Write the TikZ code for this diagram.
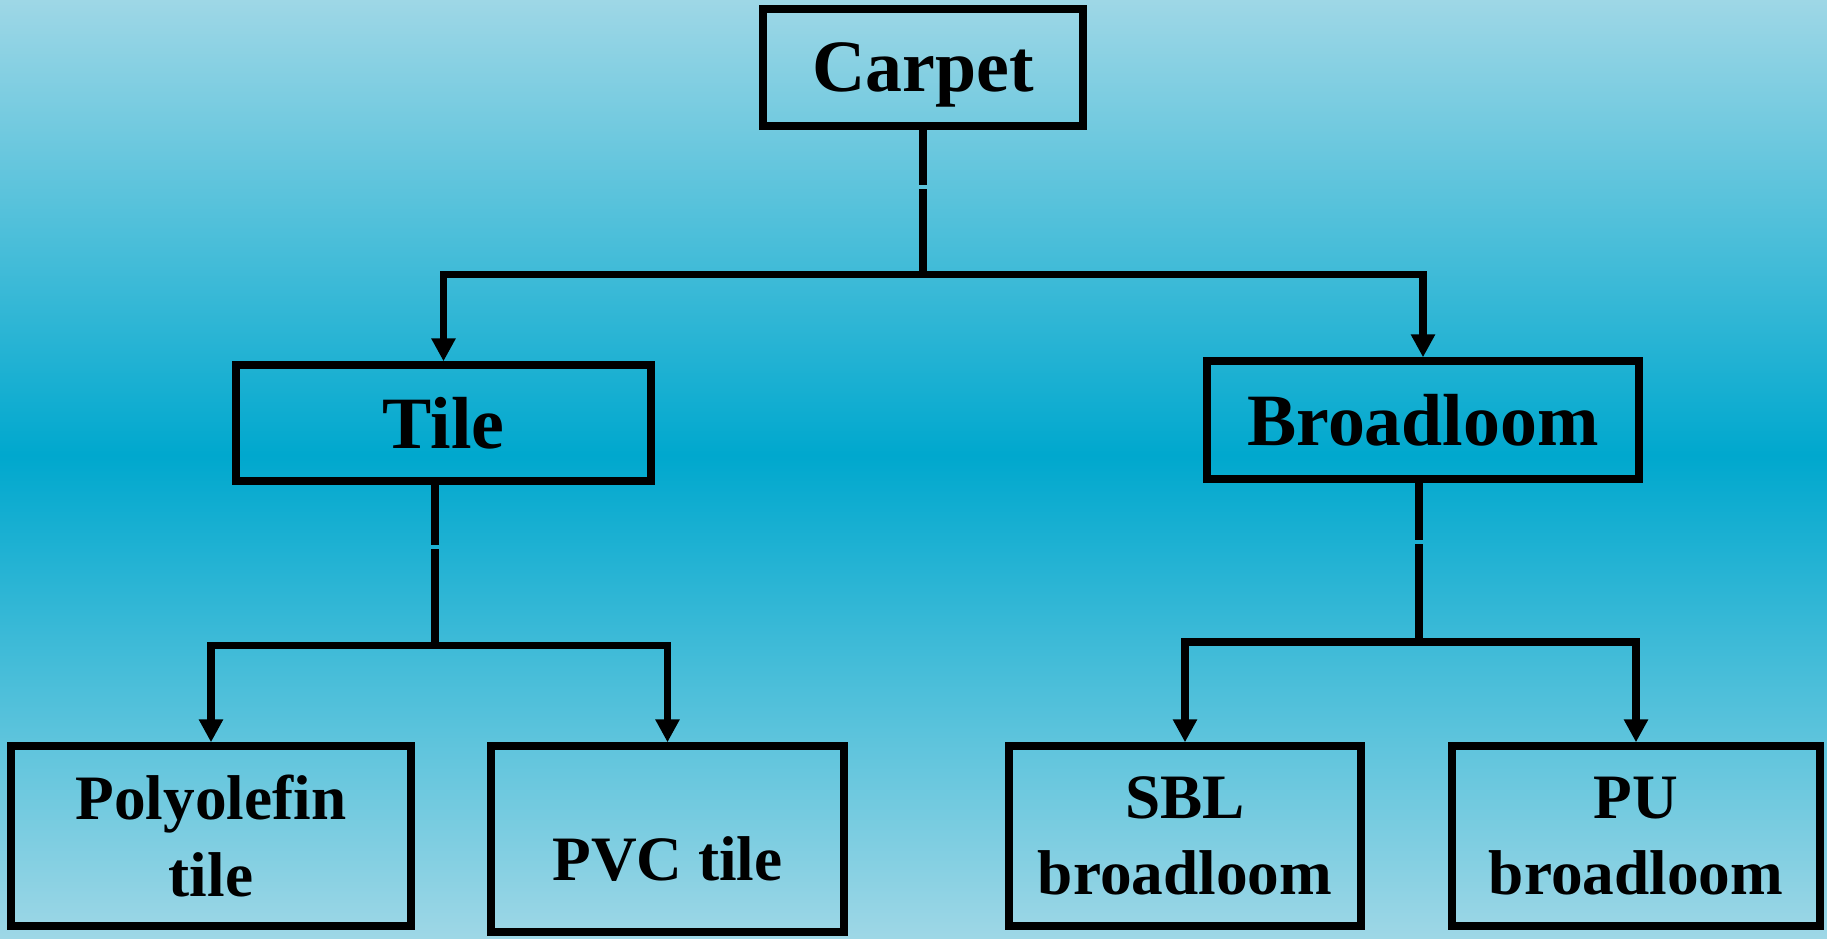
\documentclass[tikz,border=0pt]{standalone}
\usepackage{fontspec}
\setmainfont{Liberation Serif}
\usetikzlibrary{arrows.meta}
\definecolor{bgpale}{RGB}{158,215,230}
\definecolor{bgdeep}{RGB}{0,168,206}
\begin{document}
\begin{tikzpicture}[
		box/.style={draw,line width=2.1pt,align=center,font=\bfseries\fontsize{21}{25}\selectfont},
		leaf/.style={box,font=\bfseries\fontsize{18}{21.8}\selectfont},
		link/.style={line width=2.1pt},
		feed/.style={link,-{Triangle[width=6.5pt,length=6.5pt]}}
	]
			\useasboundingbox (0,0) rectangle (18.27,-9.38);
			\shade[top color=bgpale,bottom color=bgdeep] (0,0) rectangle (18.27,-4.55);
			\shade[top color=bgdeep,bottom color=bgpale] (0,-4.55) rectangle (18.27,-9.38);
			\node[box,minimum width=3.20cm,minimum height=1.17cm,text depth=0pt] (carpet) at (9.23,-0.675) {Carpet};
			\node[box,minimum width=4.15cm,minimum height=1.16cm] (tile) at (4.435,-4.23) {Tile};
			\node[box,minimum width=4.32cm,minimum height=1.18cm] (broad) at (14.23,-4.20) {Broadloom};
			\node[leaf,minimum width=4.00cm,minimum height=1.80cm] (poly) at (2.11,-8.36) {Polyolefin\\tile};
			\node[leaf,minimum width=3.53cm,minimum height=1.86cm,text height=0.82cm,text depth=0cm] (pvc) at (6.675,-8.39) {PVC tile};
			\node[leaf,minimum width=3.52cm,minimum height=1.80cm] (sbl) at (11.85,-8.36) {SBL\\broadloom};
			\node[leaf,minimum width=3.68cm,minimum height=1.80cm] (pu) at (16.36,-8.36) {PU\\broadloom};
			\coordinate (cgap1) at (9.23,-1.85);
			\coordinate (cgap2) at (9.23,-1.89);
			\coordinate (cjoin) at (9.23,-2.745);
			\coordinate (tgap1) at (4.35,-5.45);
			\coordinate (tgap2) at (4.35,-5.49);
			\coordinate (tjoin) at (4.35,-6.455);
			\coordinate (bgap1) at (14.19,-5.40);
			\coordinate (bgap2) at (14.19,-5.44);
			\coordinate (bjoin) at (14.19,-6.42);
			\draw[link] (carpet.south)--(cgap1);
			\draw[link] (cgap2)--(cjoin);
			\draw[feed] (cjoin)-|(tile.north);
			\draw[feed] (cjoin)-|(broad.north);
			\draw[link] (tile.south -| tgap1)--(tgap1);
			\draw[link] (tgap2)--(tjoin);
			\draw[feed] (tjoin)-|(poly.north);
			\draw[feed] (tjoin)-|(pvc.north);
			\draw[link] (broad.south -| bgap1)--(bgap1);
			\draw[link] (bgap2)--(bjoin);
			\draw[feed] (bjoin)-|(sbl.north);
			\draw[feed] (bjoin)-|(pu.north);
		\end{tikzpicture}
\end{document}
